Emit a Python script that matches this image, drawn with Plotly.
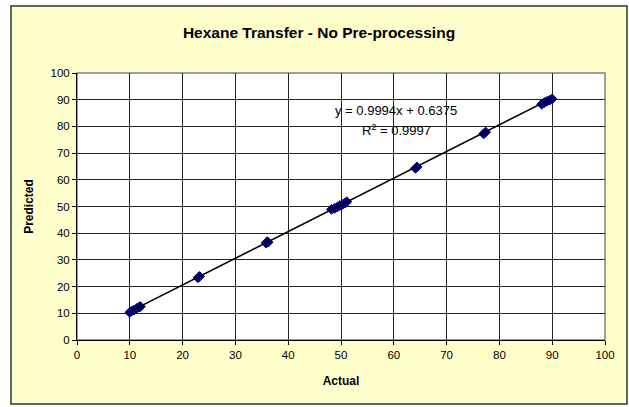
import plotly.graph_objects as go

# Actual vs predicted hexane concentration
actual = [10.0, 10.3, 10.8, 11.3, 11.8, 12.0,
          22.9, 23.2,
          35.8, 36.0, 36.2,
          48.2, 48.8, 49.3, 49.8, 50.3, 50.8, 51.1,
          64.1, 64.4,
          77.0, 77.4,
          88.0, 88.5, 89.0, 89.5, 90.0]
predicted = [10.3, 10.8, 11.2, 11.8, 12.4, 12.5,
             23.3, 23.8,
             36.3, 36.8, 36.6,
             48.9, 49.3, 49.8, 50.4, 50.8, 51.3, 51.8,
             64.3, 64.8,
             77.2, 77.9,
             88.3, 88.9, 89.4, 89.8, 90.3]

# Linear trendline coefficients and fit quality
slope = 0.9994
intercept = 0.6375
r_squared = 0.9997

x_ticks = list(range(0, 101, 10))
y_ticks = list(range(0, 101, 10))

W, H = 629, 407
L, R, T, B = 77, 24, 73, 67
pw, ph = W - L - R, H - T - B

def px_x(p):
    return (p - L) / pw

def px_y(p):
    return (H - B - p) / ph

fit_x = [min(actual), max(actual)]
fit_y = [slope * v + intercept for v in fit_x]

fig = go.Figure()
fig.add_trace(go.Scatter(
    x=actual, y=predicted, mode="markers",
    marker=dict(symbol="diamond", size=7.5, color="#000080",
                line=dict(color="#000080", width=1)),
    showlegend=False, hoverinfo="x+y"))
fig.add_trace(go.Scatter(
    x=fit_x, y=fit_y, mode="lines",
    line=dict(color="black", width=1.6),
    showlegend=False, hoverinfo="skip"))

font = "Arial, Liberation Sans, sans-serif"

fig.add_annotation(x=60.5, y=85.8, xref="x", yref="y",
                   text=f"y = {slope:.4f}x + {intercept:.4f}",
                   showarrow=False, font=dict(family=font, size=13, color="black"))
fig.add_annotation(x=60.5, y=78.7, xref="x", yref="y",
                   text=f"R<sup>2</sup> = {r_squared:.4f}",
                   showarrow=False, font=dict(family=font, size=13, color="black"))

# Chart frame and plot area
fig.add_shape(type="rect", xref="paper", yref="paper", layer="below",
              x0=px_x(11), x1=px_x(627), y0=px_y(404), y1=px_y(6),
              fillcolor="#FFFFCC", line=dict(color="#333333", width=1.5))
fig.add_shape(type="rect", xref="paper", yref="paper", layer="below",
              x0=0, x1=1, y0=0, y1=1,
              fillcolor="white", line=dict(color="#808080", width=1.5))

axis_common = dict(
    range=[0, 100], tickmode="array", showgrid=True, gridcolor="#222222",
    gridwidth=1, showline=True, linecolor="black", linewidth=1,
    ticks="outside", ticklen=4, tickcolor="black", zeroline=False,
    tickfont=dict(family=font, size=11.5, color="black"), fixedrange=True,
)

fig.update_layout(
    width=W, height=H,
    margin=dict(l=L, r=R, t=T, b=B),
    paper_bgcolor="white", plot_bgcolor="rgba(0,0,0,0)",
    title=dict(text="<b>Hexane Transfer - No Pre-processing</b>",
               x=px_x(319), xref="paper", xanchor="center",
               y=1 - 33 / H, yref="container", yanchor="middle",
               font=dict(family=font, size=15.5, color="black")),
    xaxis=dict(axis_common, tickvals=x_ticks,
               title=dict(text="<b>Actual</b>", standoff=16,
                          font=dict(family=font, size=12, color="black"))),
    yaxis=dict(axis_common, tickvals=y_ticks,
               title=dict(text="<b>Predicted</b>", standoff=14,
                          font=dict(family=font, size=12, color="black"))),
)

fig.write_html("out.html")
